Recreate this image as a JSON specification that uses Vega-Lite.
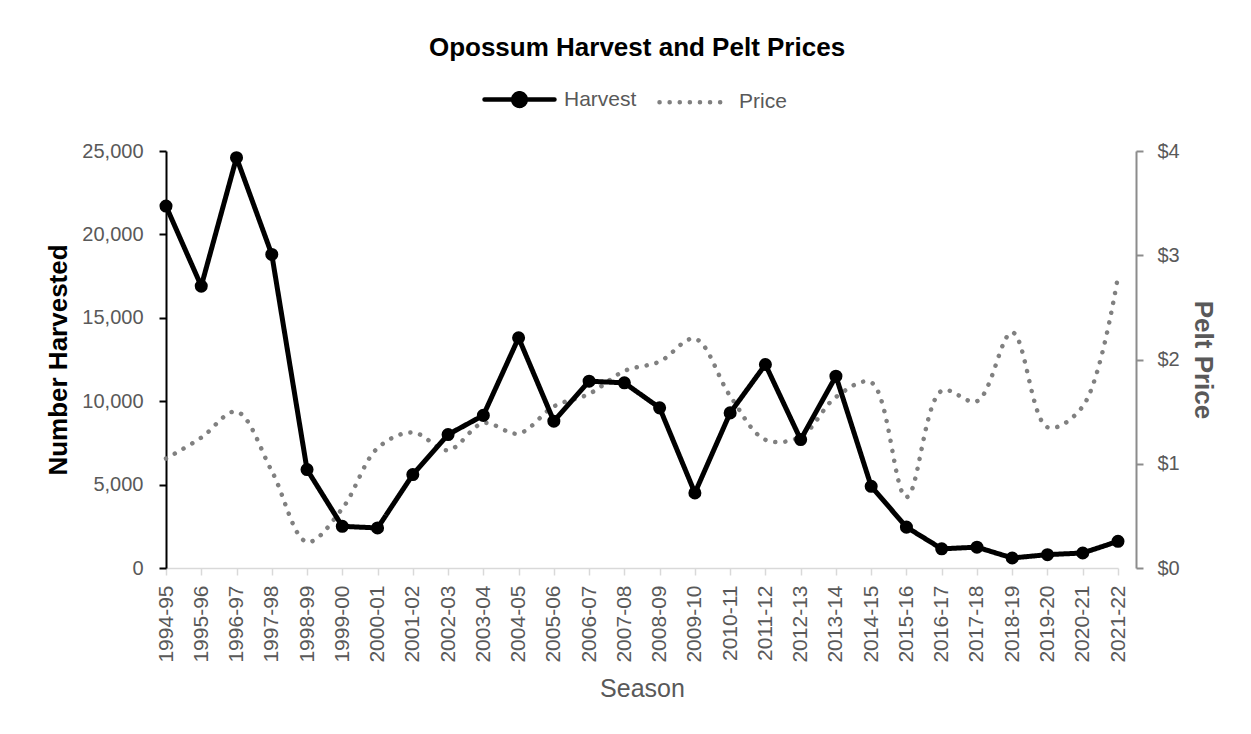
{
  "$schema": "https://vega.github.io/schema/vega-lite/v6.json",
  "width": 970,
  "height": 417,
  "autosize": "none",
  "padding": {"left": 166, "top": 151, "right": 115, "bottom": 166},
  "background": "#ffffff",
  "title": {
    "text": "Opossum Harvest and Pelt Prices",
    "font": "Liberation Sans",
    "fontSize": 26,
    "fontWeight": "bold",
    "color": "#000000",
    "anchor": "middle",
    "frame": "group",
    "dx": -14,
    "offset": 1
  },
  "config": {
    "view": {"stroke": null},
    "axis": {"grid": false, "labelFont": "Liberation Sans", "titleFont": "Liberation Sans"},
    "legend": {
      "orient": "none",
      "legendX": 316,
      "legendY": -89,
      "direction": "horizontal",
      "title": null,
      "symbolSize": 4900,
      "symbolStrokeWidth": 4.5,
      "symbolOpacity": 1,
      "labelFont": "Liberation Sans",
      "labelFontSize": 21,
      "labelColor": "#595959",
      "labelOffset": 7,
      "columnPadding": 13
    }
  },
  "data": {
    "values": [
      {"season": "1994-95", "harvest": 21700, "price": 1.05},
      {"season": "1995-96", "harvest": 16900, "price": 1.25},
      {"season": "1996-97", "harvest": 24600, "price": 1.5},
      {"season": "1997-98", "harvest": 18800, "price": 0.93},
      {"season": "1998-99", "harvest": 5900, "price": 0.25},
      {"season": "1999-00", "harvest": 2500, "price": 0.57},
      {"season": "2000-01", "harvest": 2400, "price": 1.15},
      {"season": "2001-02", "harvest": 5600, "price": 1.3},
      {"season": "2002-03", "harvest": 8000, "price": 1.13},
      {"season": "2003-04", "harvest": 9150, "price": 1.39},
      {"season": "2004-05", "harvest": 13800, "price": 1.29},
      {"season": "2005-06", "harvest": 8800, "price": 1.55},
      {"season": "2006-07", "harvest": 11200, "price": 1.67},
      {"season": "2007-08", "harvest": 11100, "price": 1.89},
      {"season": "2008-09", "harvest": 9600, "price": 1.98},
      {"season": "2009-10", "harvest": 4500, "price": 2.2},
      {"season": "2010-11", "harvest": 9300, "price": 1.65},
      {"season": "2011-12", "harvest": 12200, "price": 1.23},
      {"season": "2012-13", "harvest": 7700, "price": 1.26},
      {"season": "2013-14", "harvest": 11500, "price": 1.64},
      {"season": "2014-15", "harvest": 4900, "price": 1.78},
      {"season": "2015-16", "harvest": 2450, "price": 0.68},
      {"season": "2016-17", "harvest": 1150, "price": 1.7},
      {"season": "2017-18", "harvest": 1250, "price": 1.6},
      {"season": "2018-19", "harvest": 600, "price": 2.26},
      {"season": "2019-20", "harvest": 800, "price": 1.35},
      {"season": "2020-21", "harvest": 900, "price": 1.55},
      {"season": "2021-22", "harvest": 1600, "price": 2.8}
    ]
  },
  "encoding": {
    "x": {
      "field": "season",
      "type": "ordinal",
      "sort": null,
      "scale": {"type": "point", "range": [0, 952], "padding": 0},
      "axis": {
        "title": "Season",
        "titleFontSize": 25,
        "titleFontWeight": "normal",
        "titleColor": "#595959",
        "titlePadding": 14,
        "labelAngle": 270,
        "labelFontSize": 21,
        "labelColor": "#595959",
        "labelPadding": 10,
        "domainColor": "#d9d9d9",
        "domainWidth": 1.5,
        "tickColor": "#d9d9d9",
        "tickWidth": 1.5,
        "tickSize": 7
      }
    }
  },
  "layer": [
    {
      "mark": {"type": "line", "interpolate": "catmull-rom", "strokeWidth": 4.5, "strokeCap": "round"},
      "encoding": {
        "y": {
          "field": "price",
          "type": "quantitative",
          "scale": {"domain": [0, 4], "nice": false},
          "axis": {
            "orient": "right",
            "title": "Pelt Price",
            "titleFontSize": 26,
            "titleFontWeight": "bold",
            "titleColor": "#595959",
            "titlePadding": 10,
            "values": [0, 1, 2, 3, 4],
            "format": "$.0f",
            "labelFontSize": 20,
            "labelColor": "#595959",
            "labelPadding": 14,
            "domainColor": "#8c8c8c",
            "domainWidth": 2,
            "tickColor": "#8c8c8c",
            "tickWidth": 2,
            "tickSize": 7
          }
        },
        "color": {
          "datum": "Price",
          "scale": {"domain": ["Harvest", "Price"], "range": ["#000000", "#808080"]},
          "legend": {
            "encode": {
              "symbols": {
                "update": {
                  "strokeCap": {"value": "round"},
                  "fill": {"value": "#000000"},
                  "opacity": {"value": 1}
                }
              }
            }
          }
        },
        "strokeDash": {
          "datum": "Price",
          "scale": {"domain": ["Harvest", "Price"], "range": [[1, 0], [0.1, 10]]}
        }
      }
    },
    {
      "layer": [
        {
          "mark": {"type": "line", "strokeWidth": 5, "strokeJoin": "round"},
          "encoding": {
            "y": {
              "field": "harvest",
              "type": "quantitative",
              "scale": {"domain": [0, 25000], "nice": false},
              "axis": {
                "orient": "left",
                "title": "Number Harvested",
                "titleFontSize": 26,
                "titleFontWeight": "bold",
                "titleColor": "#000000",
                "titlePadding": 10,
                "values": [0, 5000, 10000, 15000, 20000, 25000],
                "format": ",d",
                "labelFontSize": 20,
                "labelColor": "#595959",
                "labelPadding": 16,
                "domainColor": "#000000",
                "domainWidth": 2,
                "tickColor": "#000000",
                "tickWidth": 2,
                "tickSize": 7
              }
            },
            "color": {"datum": "Harvest"},
            "strokeDash": {"datum": "Harvest"}
          }
        },
        {
          "mark": {"type": "point", "filled": true, "color": "#000000", "size": 170, "opacity": 1},
          "encoding": {
            "y": {"field": "harvest", "type": "quantitative"}
          }
        },
        {
          "mark": {"type": "point", "filled": true, "size": 0, "opacity": 0},
          "encoding": {
            "y": {"field": "harvest", "type": "quantitative"},
            "shape": {
              "datum": "Harvest",
              "scale": {
                "domain": ["Harvest", "Price"],
                "range": ["M-1,0L1,0M-0.18,0A0.18,0.18,0,1,0,0.18,0A0.18,0.18,0,1,0,-0.18,0Z", "stroke"]
              }
            }
          }
        }
      ]
    }
  ],
  "resolve": {"scale": {"y": "independent"}}
}
